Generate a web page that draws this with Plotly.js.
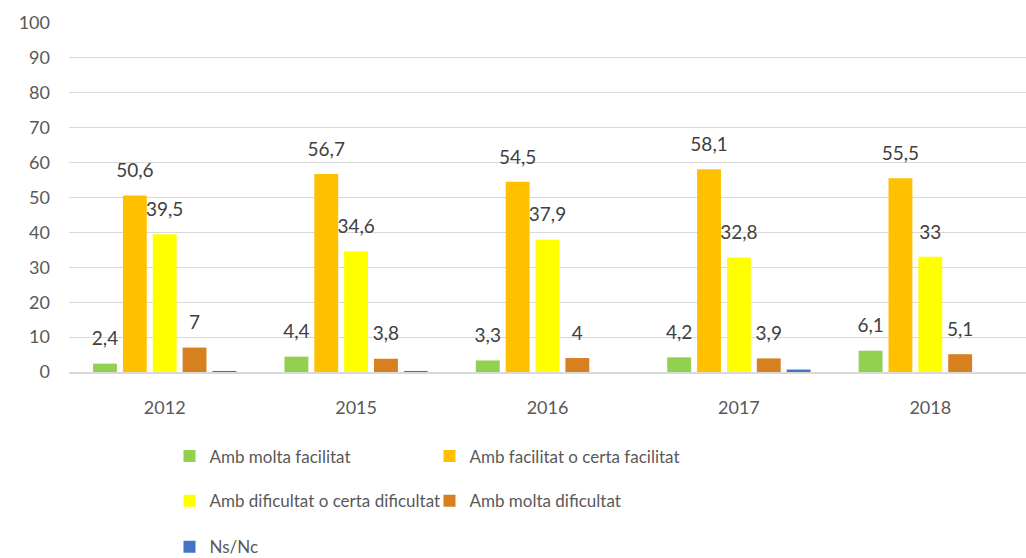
<!DOCTYPE html>
<html>
<head>
<meta charset="utf-8">
<script src="https://cdn.plot.ly/plotly-3.0.1.min.js"></script>
<style>html,body{margin:0;padding:0;background:#fff;}#chart{width:1026px;height:558px;}</style>
</head>
<body>
<div id="chart"></div>
<script>
const years = ["2012", "2015", "2016", "2017", "2018"];
const seriesNames = ["Amb molta facilitat", "Amb facilitat o certa facilitat", "Amb dificultat o certa dificultat", "Amb molta dificultat", "Ns/Nc"];
const moltaFacilitat = [2.4, 4.4, 3.3, 4.2, 6.1];
const facilitat = [50.6, 56.7, 54.5, 58.1, 55.5];
const dificultat = [39.5, 34.6, 37.9, 32.8, 33];
const moltaDificultat = [7, 3.8, 4, 3.9, 5.1];
const nsnc = [0.3, 0.3, 0, 0.7, 0];
const showLabels = [true, true, true, true, false];
const colors = ["#92d050", "#ffc000", "#ffff00", "#d6801f", "#4472c4"];
const yTicks = [0, 10, 20, 30, 40, 50, 60, 70, 80, 90, 100];

const allSeries = [moltaFacilitat, facilitat, dificultat, moltaDificultat, nsnc];
const legendIds = ["legend", "legend", "legend2", "legend2", "legend3"];
const fmt = v => String(v).replace('.', ',');
const FONT = "Lato, 'Open Sans', sans-serif";

const traces = [];
allSeries.forEach((vals, i) => {
  traces.push({
    type: 'bar', x: years, y: vals, name: seriesNames[i],
    marker: {color: colors[i]}, legend: legendIds[i],
    hoverinfo: 'skip'
  });
});
allSeries.forEach((vals, i) => {
  traces.push({
    type: 'scatter', mode: 'markers+text', x: years, y: vals,
    text: showLabels[i] ? vals.map(fmt) : vals.map(() => ''),
    textposition: 'top center',
    textfont: {family: FONT, size: 19, color: '#404040'},
    marker: {size: 20, opacity: 0, color: colors[i]},
    showlegend: false, hoverinfo: 'skip', cliponaxis: false
  });
});

const legendBase = {
  orientation: 'h', xanchor: 'left', yanchor: 'middle',
  font: {family: FONT, size: 17, color: '#595959'},
  bgcolor: 'rgba(0,0,0,0)', entrywidth: 215, entrywidthmode: 'pixels',
  itemclick: false, itemdoubleclick: false
};

const layout = {
  width: 1026, height: 558,
  margin: {l: 69, r: 0, t: 23, b: 185.5, pad: 0, autoexpand: false},
  paper_bgcolor: '#ffffff', plot_bgcolor: '#ffffff',
  barmode: 'group', bargap: 0.22, bargroupgap: 0.2,
  scattermode: 'group', scattergap: 0.22,
  font: {family: FONT, color: '#595959', size: 18},
  xaxis: {
    type: 'category', showgrid: false, zeroline: false,
    showline: true, linecolor: '#d9d9d9', linewidth: 2,
    ticks: '', ticklabelstandoff: 18, automargin: false,
    tickfont: {family: FONT, size: 18, color: '#595959'}
  },
  yaxis: {
    range: [0, 100], tickvals: yTicks, ticktext: yTicks.map(String),
    showgrid: true, gridcolor: '#d9d9d9', gridwidth: 1, automargin: false,
    zeroline: false, showline: false, ticks: '', ticklabelstandoff: 18,
    tickfont: {family: FONT, size: 18, color: '#595959'}
  },
  showlegend: true,
  legend: Object.assign({}, legendBase, {x: 0.105, y: -0.2418}),
  legend2: Object.assign({}, legendBase, {x: 0.105, y: -0.3705}),
  legend3: Object.assign({}, legendBase, {x: 0.105, y: -0.5021})
};

Plotly.newPlot('chart', traces, layout, {staticPlot: true, displayModeBar: false});
</script>
</body>
</html>
